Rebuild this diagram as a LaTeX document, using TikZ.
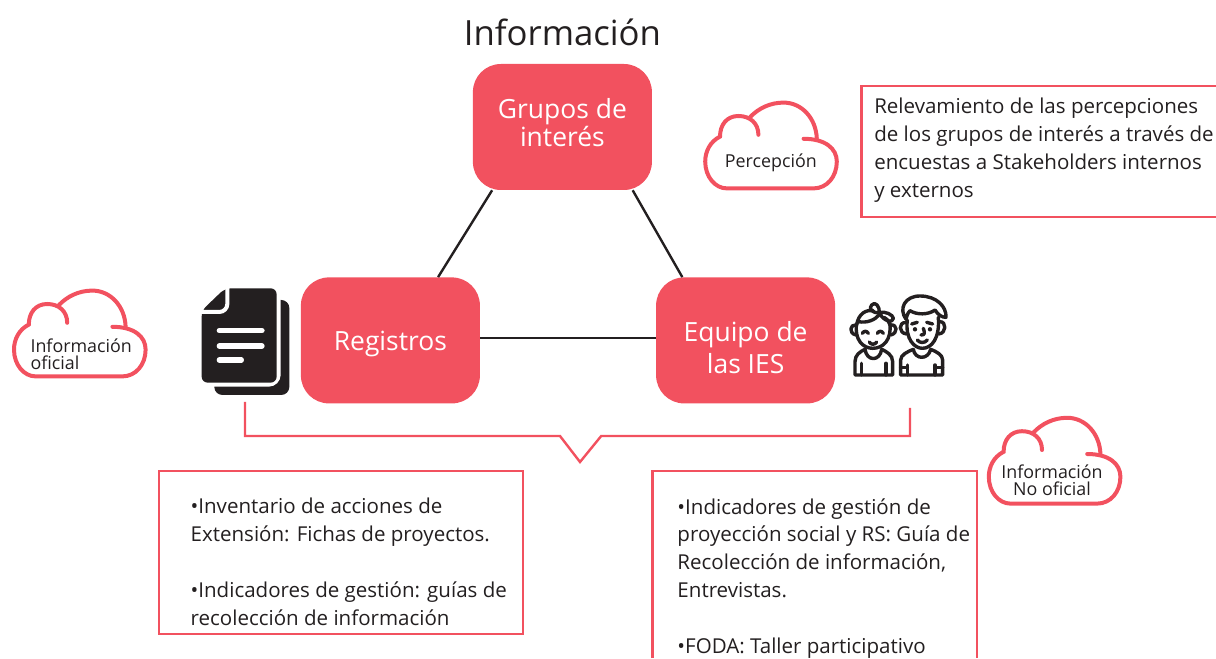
\documentclass[tikz,border=0pt]{standalone}
\usepackage{fontspec}
\setmainfont{Open Sans}
\usepackage{xcolor}
\definecolor{ies red}{HTML}{F2515F}
\definecolor{icon black}{HTML}{231F20}
\newcommand{\liftlabel}[2]{\raisebox{#1}[0pt][0pt]{\begin{tabular}{@{}c@{}}#2\end{tabular}}}
\tikzset{
  mainbox/.style={fill=ies red,rounded corners=0.7cm,minimum width=4.475cm,minimum height=3.15cm,inner sep=0pt,text=white,align=center,font=\fontsize{18.8}{18.8}\selectfont},
  redline/.style={draw=ies red,line width=0.06cm},
  cloudline/.style={draw=ies red,line width=0.1cm,line cap=round},
  cloudtext/.style={inner sep=0pt,text=icon black,font=\fontsize{12.7}{12.1}\selectfont},
  notetext/.style={anchor=north west,inner sep=0pt,align=left,text=icon black,font=\fontsize{14.6}{19.9}\selectfont},
  kidline/.style={draw=icon black,line width=0.085cm,line cap=round,line join=round},
  cloudpic/.pic={
    \draw [cloudline] (-0.52,0.71) .. controls (-0.31,0.93) and (-0.02,1.075) .. (0.32,1.075)
      .. controls (0.775,1.075) and (1.13,0.68) .. (1.15,0.18);
    \draw [cloudline] (-0.31,0.27) .. controls (-0.31,0.56) and (-0.52,0.74) .. (-0.81,0.74)
      .. controls (-1.1,0.74) and (-1.27,0.52) .. (-1.27,0.225)
      .. controls (-1.52,0.1) and (-1.64,-0.15) .. (-1.64,-0.4)
      .. controls (-1.64,-0.78) and (-1.39,-1.07) .. (-1.1,-1.07)
      -- (1.07,-1.07)
      .. controls (1.4,-1.07) and (1.65,-0.78) .. (1.65,-0.4)
      .. controls (1.65,-0.07) and (1.36,0.17) .. (0.82,0.17);
  }
}

\begin{document}
\begin{tikzpicture}
\useasboundingbox (0cm,0cm) rectangle (30.4cm,16.45cm);

\node (title) [inner sep=0pt,text=icon black,font=\fontsize{24.7}{24.7}\selectfont] at (14.06cm,15.65cm) {Información};

\node (grupos) [mainbox] at (14.06cm,13.275cm) {\liftlabel{-3.8pt}{Grupos de\\interés}};
\node (registros) [mainbox] at (9.76cm,7.94cm) {\liftlabel{-7.7pt}{Registros}};
\node (equipo) [mainbox] at (18.64cm,7.94cm) {\liftlabel{-12pt}{Equipo de\\[2.5pt]las IES}};

\draw [icon black,line width=0.06cm] (grupos.222) -- (registros.53);
\draw [icon black,line width=0.06cm] (grupos.318) -- (equipo.135);
\draw [icon black,line width=0.06cm] ([yshift=0.0625cm]registros.east) -- ([yshift=0.0625cm]equipo.west);

% clouds
\pic at (19.27cm,12.81cm) {cloudpic};
\node (percepcion) [cloudtext] at (19.27cm,12.37cm) {Percepción};
\pic at (1.99cm,8.11cm) {cloudpic};
\node (oficial) [cloudtext,align=left] at (2.03cm,7.6cm) {Información\\oficial};
\pic at (26.36cm,4.93cm) {cloudpic};
\node (nooficial) [cloudtext,align=center] at (26.3cm,4.45cm) {Información\\No oficial};

% bracket
\draw [redline] (6.125cm,6.4cm) -- (6.125cm,5.55cm) -- (14cm,5.55cm) -- (14.5cm,4.9cm) -- (15.03cm,5.55cm) -- (22.75cm,5.55cm) -- (22.75cm,6.25cm);

% text boxes
\draw [redline] (30.4cm,14.3cm) -- (21.54cm,14.3cm) -- (21.54cm,11.03cm) -- (30.4cm,11.03cm);
\node (relevamiento) [notetext] at (21.85cm,14cm) {Relevamiento de las percepciones\\de los grupos de interés a través de\\encuestas a Stakeholders internos\\y externos};

\draw [redline] (3.98cm,4.68cm) rectangle (13.07cm,0.6cm);
\node (registrostext) [notetext] at (4.76cm,4cm) {•Inventario de acciones de\\Extensión: Fichas de proyectos.\\[19.9pt]•Indicadores de gestión: guías de\\recolección de información};

\draw [redline] (16.31cm,0cm) -- (16.31cm,4.68cm) -- (24.42cm,4.68cm) -- (24.42cm,0cm);
\node (equipotext) [notetext] at (16.93cm,4cm) {•Indicadores de gestión de\\proyección social y RS: Guía de\\Recolección de información,\\Entrevistas.\\[19.9pt]•FODA: Taller participativo};

% documents icon
\begin{scope}[shift={(4.5cm,9.7cm)},x=0.00833cm,y=-0.00833cm]
\fill [icon black,rounded corners=0.2cm] (103,90) rectangle (328,375);
\path [fill=white,draw=white,line width=0.2cm,rounded corners=0.2cm] (135,55) -- (290,55) -- (290,338) -- (65,338) -- (65,122) -- cycle;
\fill [icon black,rounded corners=0.15cm] (135,55) -- (290,55) -- (290,338) -- (65,338) -- (65,122) -- cycle;
\draw [white,line width=0.1cm,rounded corners=0.2cm] (142,48) -- (142,126) -- (58,126);
\draw [white,line width=0.133cm,line cap=round] (118,182) -- (246,182);
\draw [white,line width=0.133cm,line cap=round] (118,228) -- (246,228);
\draw [white,line width=0.133cm,line cap=round] (118,270) -- (184,270);
\end{scope}

% kids icon
\begin{scope}[shift={(20.75cm,9.45cm)},x=0.00833cm,y=-0.00833cm]
% girl
\draw [kidline] (80,130) .. controls (72,180) and (100,205) .. (128,205) .. controls (160,205) and (185,180) .. (180,130);
\draw [kidline] (80,135) .. controls (85,100) and (110,88) .. (130,92);
\draw [kidline] (85,125) .. controls (110,130) and (135,120) .. (147,105);
\draw [kidline] (162,112) .. controls (172,118) and (178,125) .. (180,135);
\draw [kidline] (148,98) .. controls (125,100) and (115,85) .. (125,75) .. controls (135,62) and (150,80) .. (148,98) .. controls (165,92) and (190,105) .. (190,115) .. controls (190,130) and (160,125) .. (148,98);
\draw [kidline] (78,135) .. controls (60,132) and (55,160) .. (78,165);
\draw [kidline] (182,135) .. controls (202,132) and (205,160) .. (182,165);
\draw [kidline] (97,160) .. controls (102,152) and (110,152) .. (115,160);
\draw [kidline] (142,160) .. controls (147,152) and (155,152) .. (160,160);
\draw [kidline] (118,186) .. controls (122,195) and (135,195) .. (140,186);
\draw [kidline] (75,285) -- (75,245) .. controls (75,225) and (90,215) .. (105,208) .. controls (110,245) and (150,245) .. (155,208) .. controls (170,215) and (188,225) .. (188,245) -- (188,285) -- cycle;
\draw [kidline] (95,250) -- (95,285);
\draw [kidline] (168,250) -- (168,285);
% boy
\draw [kidline] (232,120) .. controls (225,180) and (255,205) .. (277,205) .. controls (305,205) and (330,175) .. (325,112);
\draw [kidline] (228,118) .. controls (205,85) and (225,48) .. (270,48) .. controls (320,48) and (350,80) .. (348,112) .. controls (335,112) and (325,105) .. (315,90) .. controls (295,105) and (260,105) .. (240,92) .. controls (232,100) and (230,110) .. (228,118);
\draw [kidline] (228,128) .. controls (205,125) and (205,160) .. (230,162);
\draw [kidline] (330,125) .. controls (350,125) and (350,160) .. (326,162);
\draw [kidline] (245,132) -- (262,127);
\draw [kidline] (290,127) -- (308,132);
\fill [icon black] (255,148) circle (0.055cm);
\fill [icon black] (300,148) circle (0.055cm);
\draw [kidline] (280,145) .. controls (285,160) and (285,165) .. (273,165);
\draw [kidline] (262,180) .. controls (268,190) and (285,190) .. (292,180);
\draw [kidline] (212,285) -- (212,240) .. controls (212,225) and (232,215) .. (250,208) .. controls (255,240) and (295,240) .. (302,208) .. controls (320,215) and (338,225) .. (338,240) -- (338,285) -- cycle;
\draw [kidline] (232,255) -- (232,285);
\draw [kidline] (315,255) -- (315,285);
\draw [kidline] (212,262) -- (232,262);
\draw [kidline] (315,262) -- (338,262);
\end{scope}

\end{tikzpicture}
\end{document}
